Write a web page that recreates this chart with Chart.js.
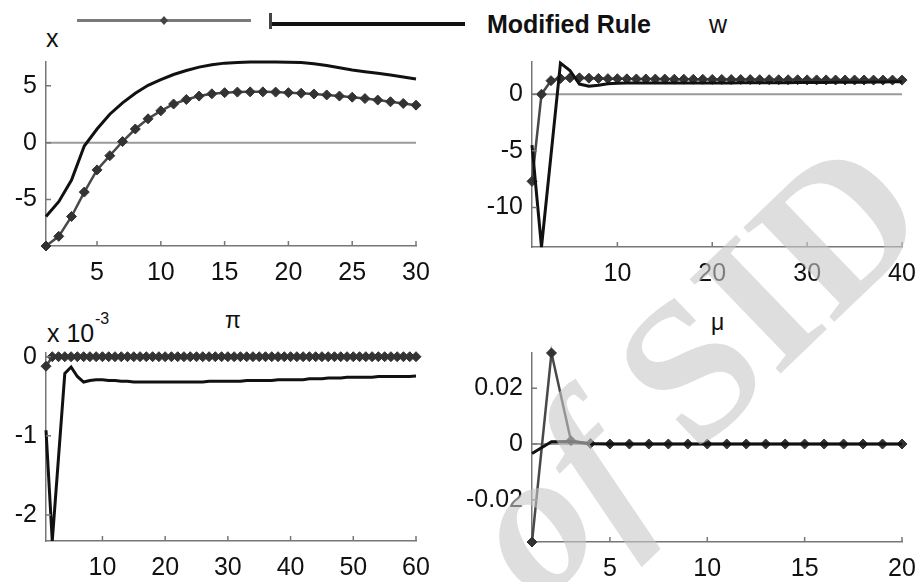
<!DOCTYPE html>
<html>
<head>
<meta charset="utf-8">
<script src="https://cdn.jsdelivr.net/npm/chart.js@4.4.0/dist/chart.umd.min.js"></script>
<style>
  body { margin: 0; background: #fff; width: 918px; height: 582px; position: relative; overflow: hidden;
         font-family: "Liberation Sans", Arial, sans-serif; color: #111; }
  .panel { position: absolute; }
  .lbl { position: absolute; font-size: 25px; line-height: 1; white-space: nowrap; }
  .bar { position: absolute; }
  #mark { position: absolute; left: 0; top: 0; pointer-events: none; }
</style>
</head>
<body>

<!-- legend -->
<div class="bar" style="left:77px;top:19px;width:174px;height:3px;background:#7a7a7a"></div>
<div class="bar" style="left:160px;top:16px;width:8px;height:9px;background:#444;clip-path:polygon(50% 0,100% 50%,50% 100%,0 50%)"></div>
<div class="bar" style="left:269px;top:13px;width:3px;height:16px;background:#444"></div>
<div class="bar" style="left:272px;top:22px;width:193px;height:4px;background:#111"></div>
<div class="lbl" style="left:487px;top:12px;font-weight:bold">Modified Rule</div>

<!-- panel titles -->
<div class="lbl" style="left:46px;top:26px">x</div>
<div class="lbl" style="left:709px;top:12px">w</div>
<div class="lbl" style="left:225px;top:309px;font-size:23px">π</div>
<div class="lbl" style="left:711px;top:311px;font-size:23px">μ</div>
<div class="lbl" style="left:47px;top:321px">x 10</div>
<div class="lbl" style="left:95px;top:311px;font-size:16px">-3</div>

<div class="panel" id="pX"><canvas></canvas></div>
<div class="panel" id="pW"><canvas></canvas></div>
<div class="panel" id="pPi"><canvas></canvas></div>
<div class="panel" id="pMu"><canvas></canvas></div>

<svg id="mark" width="918" height="582">
  <text x="540" y="606" transform="rotate(-44 540 606)" font-family="Liberation Serif, serif"
        font-weight="bold" font-size="200" fill="rgb(200,200,200)" fill-opacity="0.6"><tspan font-style="italic">of</tspan> SID</text>
</svg>

<script>
// x: output gap
const xTicksX = [5, 10, 15, 20, 25, 30];
const xTicksY = [-5, 0, 5];
const xRule = [-9.1, -8.25, -6.5, -4.35, -2.4, -1.15, 0.1, 1.2, 2.1, 2.8,
  3.4, 3.8, 4.1, 4.3, 4.4, 4.45, 4.47, 4.47, 4.45, 4.4,
  4.35, 4.28, 4.2, 4.1, 4.0, 3.88, 3.75, 3.6, 3.45, 3.3];
const xModified = [-6.5, -5.2, -3.3, -0.3, 1.2, 2.5, 3.5, 4.35, 5.05, 5.55,
  6.0, 6.35, 6.65, 6.85, 7.0, 7.05, 7.1, 7.1, 7.1, 7.08,
  7.05, 6.95, 6.8, 6.6, 6.4, 6.25, 6.1, 5.95, 5.78, 5.6];

// w
const wTicksX = [10, 20, 30, 40];
const wTicksY = [-10, -5, 0];
const wRule = [-7.7, 0.0, 1.2, 1.4, 1.45, 1.45, 1.42, 1.4, 1.38, 1.37,
  1.36, 1.35, 1.35, 1.34, 1.34, 1.33, 1.33, 1.32, 1.32, 1.31,
  1.31, 1.3, 1.3, 1.3, 1.29, 1.29, 1.28, 1.28, 1.28, 1.27,
  1.27, 1.27, 1.26, 1.26, 1.26, 1.26, 1.25, 1.25, 1.25, 1.25];
const wModified = [-4.5, -13.5, -5.4, 2.75, 2.1, 0.9, 0.7, 0.8, 0.92, 0.97,
  1.0, 1.0, 1.0, 1.0, 1.0, 1.0, 1.0, 1.0, 1.0, 1.0,
  1.0, 1.0, 1.01, 1.01, 1.01, 1.02, 1.02, 1.02, 1.03, 1.03,
  1.04, 1.04, 1.05, 1.05, 1.06, 1.07, 1.08, 1.09, 1.1, 1.1];

// pi, in units of 10^-3
const piTicksX = [10, 20, 30, 40, 50, 60];
const piTicksY = [-2, -1, 0];
const piRule = [-0.12, 0, 0, 0, 0, 0, 0, 0, 0, 0,
  0, 0, 0, 0, 0, 0, 0, 0, 0, 0,
  0, 0, 0, 0, 0, 0, 0, 0, 0, 0,
  0, 0, 0, 0, 0, 0, 0, 0, 0, 0,
  0, 0, 0, 0, 0, 0, 0, 0, 0, 0,
  0, 0, 0, 0, 0, 0, 0, 0, 0, 0];
const piModified = [-0.93, -2.33, -1.27, -0.21, -0.13, -0.25, -0.32, -0.3, -0.29, -0.29,
  -0.3, -0.3, -0.31, -0.31, -0.32, -0.32, -0.32, -0.32, -0.32, -0.32,
  -0.32, -0.32, -0.32, -0.32, -0.32, -0.32, -0.31, -0.31, -0.31, -0.31,
  -0.31, -0.31, -0.3, -0.3, -0.3, -0.3, -0.3, -0.29, -0.29, -0.29,
  -0.29, -0.29, -0.28, -0.28, -0.28, -0.27, -0.27, -0.27, -0.26, -0.26,
  -0.26, -0.26, -0.26, -0.25, -0.25, -0.25, -0.25, -0.25, -0.25, -0.245];

// mu
const muTicksX = [5, 10, 15, 20];
const muTicksY = [-0.02, 0, 0.02];
const muRule = [-0.0352, 0.0327, 0.0012, 0.0002, 0, 0, 0, 0, 0, 0,
  0, 0, 0, 0, 0, 0, 0, 0, 0, 0];
const muModified = [-0.0034, 0.0008, 0.0009, 0.0001, 0, 0, 0, 0, 0, 0,
  0, 0, 0, 0, 0, 0, 0, 0, 0, 0];

const FONT = "'Liberation Sans', Arial, sans-serif";
const AXIS = "#777";

const axisExtras = {
  id: "axisExtras",
  beforeDatasetsDraw(chart) {
    const { ctx, chartArea, scales } = chart;
    const y0 = scales.y.getPixelForValue(0);
    ctx.save();
    ctx.strokeStyle = "#9a9a9a";
    ctx.lineWidth = 2;
    ctx.beginPath();
    ctx.moveTo(chartArea.left, y0);
    ctx.lineTo(chartArea.right, y0);
    ctx.stroke();
    ctx.restore();
  },
  afterDraw(chart) {
    // matlab style ticks pointing inwards
    const { ctx, chartArea, scales } = chart;
    ctx.save();
    ctx.strokeStyle = AXIS;
    ctx.lineWidth = 1.5;
    ctx.beginPath();
    scales.x.ticks.forEach(t => {
      const px = scales.x.getPixelForValue(t.value);
      ctx.moveTo(px, chartArea.bottom);
      ctx.lineTo(px, chartArea.bottom - 5);
    });
    scales.y.ticks.forEach(t => {
      const py = scales.y.getPixelForValue(t.value);
      ctx.moveTo(chartArea.left, py);
      ctx.lineTo(chartArea.left + 5, py);
    });
    ctx.stroke();
    ctx.restore();
  }
};

function makePanel(id, box, xMax, xTicks, yMin, yMax, yTicks, rule, modified) {
  const padL = 80, padR = 24, padT = 12, padB = 44;
  const wrap = document.getElementById(id);
  const w = box.R - box.L + padL + padR;
  const h = box.B - box.T + padT + padB;
  wrap.style.left = (box.L - padL) + "px";
  wrap.style.top = (box.T - padT) + "px";
  const canvas = wrap.querySelector("canvas");
  canvas.width = w;
  canvas.height = h;

  return new Chart(canvas, {
    type: "line",
    data: {
      datasets: [
        {
          label: "Modified Rule",
          data: modified.map((v, i) => ({ x: i + 1, y: v })),
          borderColor: "#111",
          borderWidth: 3,
          pointRadius: 0,
          order: 0,
          clip: false,
        },
        {
          label: "Rule",
          data: rule.map((v, i) => ({ x: i + 1, y: v })),
          borderColor: "#484848",
          borderWidth: 2.5,
          pointStyle: "rectRot",
          pointRadius: 5,
          pointBackgroundColor: "#333",
          pointBorderColor: "#333",
          pointBorderWidth: 1,
          order: 1,
          clip: false,
        },
      ],
    },
    options: {
      responsive: false,
      animation: false,
      layout: { padding: { top: padT, right: padR, left: 0, bottom: 0 } },
      plugins: { legend: { display: false }, tooltip: { enabled: false } },
      scales: {
        x: {
          type: "linear",
          min: 1,
          max: xMax,
          afterBuildTicks: s => { s.ticks = xTicks.map(v => ({ value: v })); },
          afterFit: s => { s.height = padB; s.paddingLeft = 0; s.paddingRight = 0; },
          grid: { display: false, drawTicks: false },
          border: { color: AXIS, width: 1.5 },
          ticks: { color: "#111", font: { family: FONT, size: 25 }, padding: 12,
                   maxRotation: 0, autoSkip: false, callback: v => String(v) },
        },
        y: {
          type: "linear",
          min: yMin,
          max: yMax,
          afterBuildTicks: s => { s.ticks = yTicks.map(v => ({ value: v })); },
          afterFit: s => { s.width = padL; s.paddingTop = 0; s.paddingBottom = 0; },
          grid: { display: false, drawTicks: false },
          border: { color: AXIS, width: 1.5 },
          ticks: { color: "#111", font: { family: FONT, size: 25 }, padding: 9,
                   autoSkip: false, callback: v => String(v) },
        },
      },
    },
    plugins: [axisExtras],
  });
}

makePanel("pX", { L: 46, R: 416, T: 62, B: 246 }, 30, xTicksX, -9.1, 7.1, xTicksY, xRule, xModified);
makePanel("pW", { L: 532, R: 902, T: 62, B: 247 }, 40, wTicksX, -13.5, 2.85, wTicksY, wRule, wModified);
makePanel("pPi", { L: 46, R: 416, T: 353, B: 541 }, 60, piTicksX, -2.33, 0.047, piTicksY, piRule, piModified);
makePanel("pMu", { L: 532, R: 902, T: 353, B: 542 }, 20, muTicksX, -0.0352, 0.0327, muTicksY, muRule, muModified);
</script>
</body>
</html>
